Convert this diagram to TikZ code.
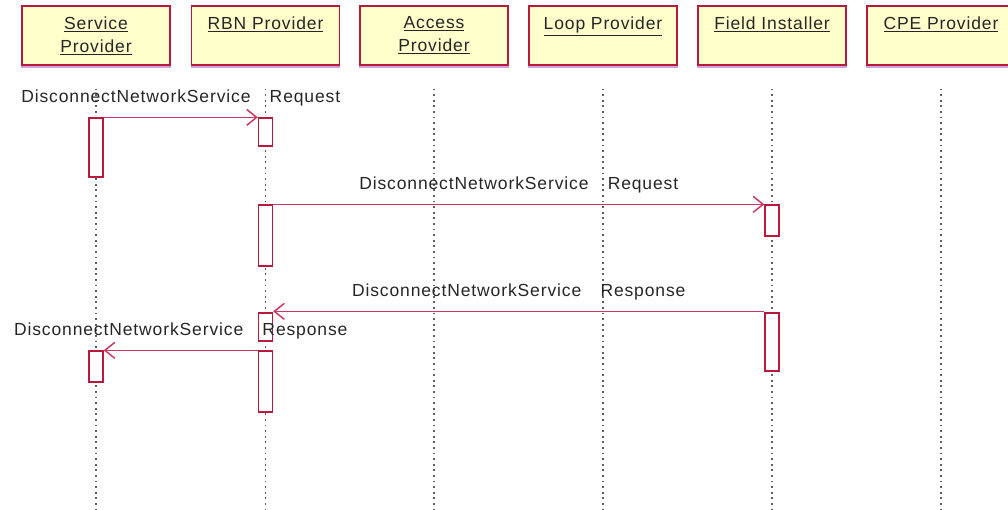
\documentclass[tikz,border=0pt]{standalone}
\usepackage{fontspec}
\newfontfamily\umlfont[LetterSpace=5]{Liberation Sans}
\usetikzlibrary{arrows.meta}
\definecolor{headfill}{RGB}{255,255,204}
\definecolor{headline}{RGB}{185,25,60}
\definecolor{headshadow}{RGB}{205,165,220}
\definecolor{msgline}{RGB}{205,55,100}
\definecolor{dotline}{RGB}{95,95,95}
\newcommand{\lowrule}{\rule[-1pt]{0pt}{1pt}}
\tikzset{
  head/.style={draw=headline, fill=headfill, line width=1.3pt, minimum width=148pt,
    minimum height=59pt, inner sep=0pt, align=center, text=black!85,
    font=\umlfont\fontsize{17.5}{23}\selectfont},
  bar/.style={draw=headline, fill=white, line width=1.3pt, minimum width=14pt, inner sep=0pt},
  lifeline/.style={draw=dotline, line width=1.8pt, dash pattern=on 1.8pt off 3.8pt},
  msg/.style={draw=msgline, line width=1.5pt, -{Straight Barb[length=10pt,width=16pt]}},
  msglabel/.style={above=8pt, inner sep=2pt, text=black!85,
    font=\umlfont\fontsize{17.5}{23}\selectfont}
}
\begin{document}
\begin{tikzpicture}[x=1pt,y=-1pt]
\clip (0,0) rectangle (1008,510);
\coordinate (bottom) at (0,512);
% objects
\node[head] (sp) at (96,35.5) {\underline{Service}\\\underline{Provider}\lowrule};
\node[head] (rbn) at (265.5,35.5) {\underline{RBN Provider}\\\lowrule};
\node[head] (ap) at (434,35.5) {\underline{Access}\\\underline{Provider}\lowrule};
\node[head] (lp) at (603,35.5) {\underline{Loop Provider}\\\lowrule};
\node[head] (fi) at (772,35.5) {\underline{Field Installer}\\\lowrule};
\node[head] (cpe) at (941,35.5) {\underline{CPE Provider}\\\lowrule};
\foreach \n in {sp,rbn,ap,lp,fi,cpe} {
  \draw[headshadow, line width=1.5pt] ([yshift=-1.4pt]\n.south west) -- ([yshift=-1.4pt]\n.south east);
  \draw[lifeline] ([yshift=-23pt]\n.south) -- (\n.south |- bottom);
}
% activations
\node[bar, minimum height=59pt] (sp1) at (96,147.5) {};
\node[bar, minimum height=28pt] (rbn1) at (265.5,132) {};
\node[bar, minimum height=61pt] (rbn2) at (265.5,235.5) {};
\node[bar, minimum height=31pt] (fi1) at (772,220.5) {};
\node[bar, minimum height=58pt] (fi2) at (772,342) {};
\node[bar, minimum height=28pt] (rbn3) at (265.5,327) {};
\node[bar, minimum height=61pt] (rbn4) at (265.5,381.5) {};
\node[bar, minimum height=31pt] (sp2) at (96,366.5) {};
% messages
\draw[msg] (sp1.north east) -- node[msglabel] {DisconnectNetworkService\hspace{1.1em}Request} (rbn1.north west);
\draw[msg] (rbn2.north east) -- node[msglabel] {DisconnectNetworkService\hspace{1.1em}Request} (fi1.north west);
\draw[msg] ([yshift=1pt]fi2.north west) -- node[msglabel] {DisconnectNetworkService\hspace{1.1em}Response} ([yshift=1pt]rbn3.north east);
\draw[msg] (rbn4.north west) -- node[msglabel] {DisconnectNetworkService\hspace{1.1em}Response} (sp2.north east);
\end{tikzpicture}
\end{document}
